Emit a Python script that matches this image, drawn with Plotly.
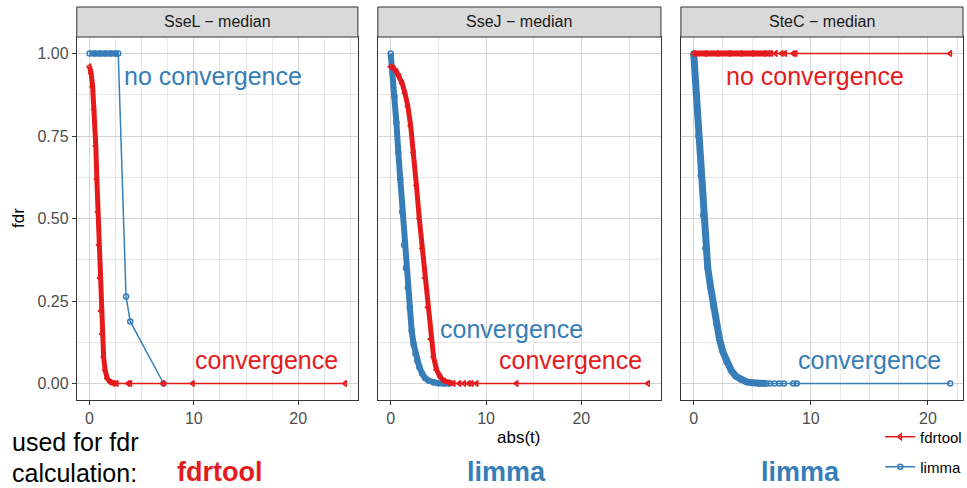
import plotly.graph_objects as go

# ---------------- data ----------------
panels = ["SseL \u2212 median", "SseJ \u2212 median", "SteC \u2212 median"]

# SseL
sseL_fdrtool_t = [0.0, 0.15, 0.3, 0.45, 0.6, 0.7, 0.8, 0.9, 1.0, 1.1, 1.2, 1.35, 1.5, 1.7, 2.0, 2.3, 2.6,
                  3.7, 3.9, 7.05, 9.9, 24.5]
sseL_fdrtool_fdr = [0.96, 0.94, 0.90, 0.83, 0.72, 0.62, 0.52, 0.42, 0.32, 0.22, 0.15, 0.08, 0.04, 0.015, 0.004, 0.0, 0.0,
                    0.0, 0.0, 0.0, 0.0, 0.0]
sseL_fdrtool_dense = 17
sseL_limma_t = [0.0, 0.5, 1.0, 1.5, 2.0, 2.5, 2.75, 3.5, 3.9, 7.1]
sseL_limma_fdr = [1.0, 1.0, 1.0, 1.0, 1.0, 1.0, 1.0, 0.264, 0.188, 0.0]
sseL_limma_dense = 7

# SseJ
sseJ_fdrtool_t = [0.0, 0.3, 0.6, 0.9, 1.2, 1.5, 1.8, 2.1, 2.4, 2.7, 3.0, 3.3, 3.6, 3.9, 4.2, 4.5, 4.8, 5.2, 5.6,
                  6.1, 6.6, 7.2, 7.7, 8.2, 8.5, 9.0, 13.2, 27.0]
sseJ_fdrtool_fdr = [0.96, 0.955, 0.945, 0.93, 0.91, 0.88, 0.84, 0.78, 0.70, 0.60, 0.50, 0.41, 0.32, 0.23, 0.135,
                    0.08, 0.042, 0.02, 0.008, 0.002, 0.0, 0.0, 0.0, 0.0, 0.0, 0.0, 0.0, 0.0]
sseJ_fdrtool_dense = 21
sseJ_limma_t = [0.0, 0.2, 0.4, 0.6, 0.8, 1.0, 1.2, 1.4, 1.6, 1.8, 2.0, 2.2, 2.4, 2.6, 2.8, 3.0, 3.3, 3.6, 4.0,
                4.5, 5.0, 5.6, 6.2]
sseJ_limma_fdr = [1.0, 0.94, 0.87, 0.79, 0.70, 0.62, 0.52, 0.42, 0.35, 0.29, 0.23, 0.16, 0.12, 0.09, 0.068, 0.05,
                  0.03, 0.017, 0.008, 0.003, 0.001, 0.0, 0.0]
sseJ_limma_dense = 23

# SteC
steC_fdrtool_t = [0.0, 1.0, 2.0, 3.0, 4.0, 5.0, 6.0, 6.4, 6.6, 7.0, 7.5, 7.8, 8.5, 8.7, 21.9]
steC_fdrtool_fdr = [1.0, 1.0, 1.0, 1.0, 1.0, 1.0, 1.0, 1.0, 1.0, 1.0, 1.0, 1.0, 1.0, 1.0, 1.0]
steC_fdrtool_dense = 8
steC_limma_t = [0.0, 0.2, 0.4, 0.6, 0.8, 1.0, 1.2, 1.45, 1.7, 1.95, 2.2, 2.5, 2.8, 3.2, 3.6, 4.0, 4.5, 5.0, 5.6,
                6.2, 6.5, 6.9, 7.3, 7.7, 8.5, 8.8, 21.9]
steC_limma_fdr = [1.0, 0.88, 0.75, 0.63, 0.51, 0.41, 0.35, 0.29, 0.23, 0.18, 0.135, 0.095, 0.065, 0.04, 0.022,
                  0.012, 0.005, 0.002, 0.0, 0.0, 0.0, 0.0, 0.0, 0.0, 0.0, 0.0, 0.0]
steC_limma_dense = 20

x_ranges = [[-1.225, 25.725], [-1.35, 28.35], [-1.095, 22.995]]
x_minor = [2.5, 5, 2.5]
x_ticks = [0, 10, 20]
y_ticks = [0.0, 0.25, 0.5, 0.75, 1.0]
y_ticklabels = ["0.00", "0.25", "0.50", "0.75", "1.00"]

method_used = ["fdrtool", "limma", "limma"]

RED = "#E41A1C"
BLUE = "#377EB8"
colors = {"fdrtool": RED, "limma": BLUE}

series = [
    {"limma": (sseL_limma_t, sseL_limma_fdr, sseL_limma_dense),
     "fdrtool": (sseL_fdrtool_t, sseL_fdrtool_fdr, sseL_fdrtool_dense)},
    {"limma": (sseJ_limma_t, sseJ_limma_fdr, sseJ_limma_dense),
     "fdrtool": (sseJ_fdrtool_t, sseJ_fdrtool_fdr, sseJ_fdrtool_dense)},
    {"limma": (steC_limma_t, steC_limma_fdr, steC_limma_dense),
     "fdrtool": (steC_fdrtool_t, steC_fdrtool_fdr, steC_fdrtool_dense)},
]

# annotations (label, colour key, x, y) per panel
notes = [
    [("no convergence", "limma", 3.1, 0.933), ("convergence", "fdrtool", 9.9, 0.07)],
    [("convergence", "limma", 5.0, 0.166), ("convergence", "fdrtool", 11.1, 0.07)],
    [("no convergence", "fdrtool", 2.6, 0.933), ("convergence", "limma", 8.7, 0.07)],
]

# ---------------- layout geometry ----------------
W, H = 967, 488
px_x = [(77, 359), (379, 663), (683, 966)]
top_px, bot_px, strip_top = 37, 400, 7
FONT = "Liberation Sans, Arial, sans-serif"

fig = go.Figure()
band_w = {"limma": [6, 6, 7], "fdrtool": [5, 5, 6]}
symbols = {"fdrtool": "triangle-left-open", "limma": "circle-open"}

for i in range(3):
    xa = "x" if i == 0 else f"x{i+1}"
    ya = "y" if i == 0 else f"y{i+1}"
    for meth in ["limma", "fdrtool"]:
        t, f, nd = series[i][meth]
        c = colors[meth]
        fig.add_trace(go.Scatter(x=t[:nd], y=f[:nd], mode="lines", xaxis=xa, yaxis=ya,
                                 line=dict(color=c, width=band_w[meth][i]), showlegend=False,
                                 hoverinfo="skip"))
        fig.add_trace(go.Scatter(x=t, y=f, mode="lines+markers", xaxis=xa, yaxis=ya, name=meth,
                                 line=dict(color=c, width=1.5),
                                 marker=dict(symbol=symbols[meth], size=5, color=c,
                                             line=dict(color=c, width=1.5)),
                                 showlegend=(i == 0),
                                 legend="legend" if meth == "fdrtool" else "legend2"))

y_dom = [(H - bot_px) / H, (H - top_px) / H]
for i in range(3):
    sfx = "" if i == 0 else str(i + 1)
    dom = [px_x[i][0] / W, px_x[i][1] / W]
    fig.layout["xaxis" + sfx] = dict(
        domain=dom, range=x_ranges[i], anchor="y" + sfx, tickvals=x_ticks,
        ticks="outside", ticklen=4, tickcolor="#333333", tickwidth=1,
        tickfont=dict(family=FONT, size=16, color="#4d4d4d"),
        showgrid=True, gridcolor="#d4d4d4", gridwidth=1.2,
        minor=dict(dtick=x_minor[i], tick0=0, showgrid=True, gridcolor="#e6e6e6", gridwidth=1, ticks=""),
        showline=True, mirror=True, linecolor="#333333", linewidth=1, zeroline=False,
    )
    fig.layout["yaxis" + sfx] = dict(
        domain=y_dom, range=[-0.05, 1.05], anchor="x" + sfx,
        tickvals=y_ticks, ticktext=y_ticklabels if i == 0 else [""] * 5,
        ticks="outside" if i == 0 else "", ticklen=4, tickcolor="#333333", tickwidth=1,
        tickfont=dict(family=FONT, size=16, color="#4d4d4d"),
        showgrid=True, gridcolor="#d4d4d4", gridwidth=1.2,
        minor=dict(dtick=0.125, tick0=0, showgrid=True, gridcolor="#e6e6e6", gridwidth=1, ticks=""),
        showline=True, mirror=True, linecolor="#333333", linewidth=1, zeroline=False,
    )
    # strip
    fig.add_shape(type="rect", xref="paper", yref="paper",
                  x0=dom[0], x1=dom[1], y0=(H - top_px) / H, y1=(H - strip_top) / H,
                  fillcolor="#d9d9d9", line=dict(color="#333333", width=1), layer="above")
    fig.add_annotation(text=panels[i], xref="paper", yref="paper", x=(dom[0] + dom[1]) / 2,
                       y=(H - (top_px + strip_top) / 2) / H, showarrow=False,
                       font=dict(family=FONT, size=16, color="#1a1a1a"), xanchor="center", yanchor="middle")
    for (txt, key, ax, ay) in notes[i]:
        fig.add_annotation(text=txt, xref="x" + sfx, yref="y" + sfx, x=ax, y=ay, showarrow=False,
                           xanchor="left", yanchor="middle",
                           font=dict(family=FONT, size=25, color=colors[key]))
    # method label under panel
    fig.add_annotation(text="<b>" + method_used[i] + "</b>", xref="paper", yref="paper",
                       x=[220, 508, 803][i] / W, y=(H - 472) / H, showarrow=False,
                       xanchor="center", yanchor="middle",
                       font=dict(family=FONT, size=27, color=colors[method_used[i]]))

fig.add_annotation(text="used for fdr", xref="paper", yref="paper", x=10 / W, y=(H - 442) / H,
                   showarrow=False, xanchor="left", yanchor="middle",
                   font=dict(family=FONT, size=25, color="black"))
fig.add_annotation(text="calculation:", xref="paper", yref="paper", x=10 / W, y=(H - 473) / H,
                   showarrow=False, xanchor="left", yanchor="middle",
                   font=dict(family=FONT, size=25, color="black"))
fig.add_annotation(text="abs(t)", xref="paper", yref="paper", x=520 / W, y=(H - 437) / H,
                   showarrow=False, xanchor="center", yanchor="middle",
                   font=dict(family=FONT, size=17, color="black"))
fig.add_annotation(text="fdr", xref="paper", yref="paper", x=18 / W, y=(H - 218) / H,
                   showarrow=False, xanchor="center", yanchor="middle", textangle=-90,
                   font=dict(family=FONT, size=17, color="black"))

leg_common = dict(xanchor="left", yanchor="middle", bgcolor="rgba(0,0,0,0)",
                  font=dict(family=FONT, size=15, color="black"), itemwidth=30)
fig.update_layout(
    width=W, height=H, margin=dict(l=0, r=0, t=0, b=0),
    paper_bgcolor="white", plot_bgcolor="white",
    legend=dict(x=883 / W, y=(H - 437) / H, **leg_common),
    legend2=dict(x=883 / W, y=(H - 467) / H, **leg_common),
)

fig.write_html("out.html")
